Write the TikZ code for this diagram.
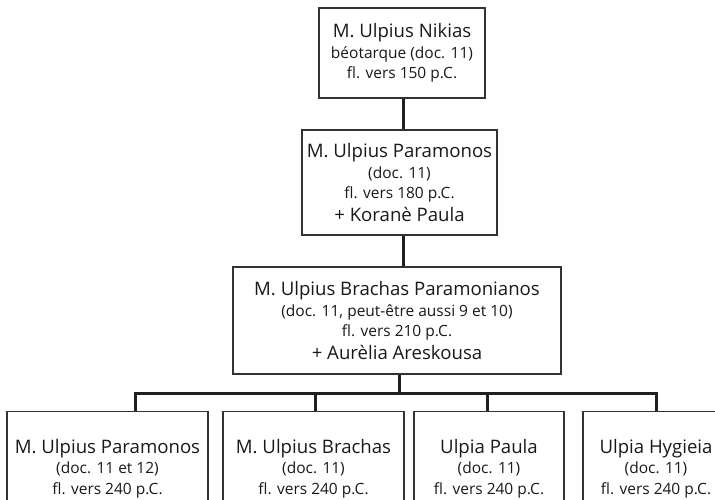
\documentclass[tikz,border=0pt]{standalone}
\usepackage{fontspec}
\setmainfont{Open Sans}
\newcommand\ttl[1]{{\fontsize{18.6}{23}\selectfont #1}}
\begin{document}
\begin{tikzpicture}[x=1pt,y=1pt,
  box/.style={draw=black!80, line width=1.3pt, fill=white, align=center, inner sep=0pt,
    font=\fontsize{15.5}{20.5}\selectfont, text=black!90},
  conn/.style={line width=3pt, draw=black!88}]
\useasboundingbox (0,0) rectangle (715,-499);
\fill[white] (0,0) rectangle (715,-499);
% generation 1
\node[box, minimum width=166, minimum height=90] (n1) at (402,-53)
  {\ttl{M. Ulpius Nikias}\\béotarque (doc. 11)\\fl. vers 150 p.C.};
% generation 2
\node[box, minimum width=195, minimum height=105] (n2) at (399.5,-182.5)
  {\ttl{M. Ulpius Paramonos}\\(doc. 11)\\fl. vers 180 p.C.\\[2pt]\ttl{+ Koranè Paula}};
% generation 3
\node[box, minimum width=328, minimum height=107] (n3) at (397,-320.5)
  {\ttl{M. Ulpius Brachas Paramonianos}\\(doc. 11, peut-être aussi 9 et 10)\\fl. vers 210 p.C.\\[2pt]\ttl{+ Aurèlia Areskousa}};
% generation 4
\node[box, minimum width=201, minimum height=114, anchor=north] (c1) at (107.5,-411)
  {\ttl{M. Ulpius Paramonos}\\(doc. 11 et 12)\\fl. vers 240 p.C.};
\node[box, minimum width=181, minimum height=114, anchor=north] (c2) at (313.5,-411)
  {\ttl{M. Ulpius Brachas}\\(doc. 11)\\fl. vers 240 p.C.};
\node[box, minimum width=150, minimum height=114, anchor=north] (c3) at (489,-411)
  {\ttl{Ulpia Paula}\\(doc. 11)\\fl. vers 240 p.C.};
\node[box, minimum width=146, minimum height=114, anchor=north] (c4) at (656,-411)
  {\ttl{Ulpia Hygieia}\\(doc. 11)\\fl. vers 240 p.C.};
% connectors
\coordinate (t1) at (403,0);
\coordinate (t2) at (399,0);
\coordinate (bus) at (0,-393);
\draw[conn] (t1 |- n1.south) -- (t1 |- n2.north);
\draw[conn] (t1 |- n2.south) -- (t1 |- n3.north);
\draw[conn] (t2 |- n3.south) -- (t2 |- bus);
\coordinate (d1) at (135,0);
\coordinate (d2) at (315,0);
\coordinate (d3) at (487,0);
\coordinate (d4) at (656,0);
\draw[conn] (d1 |- c1.north) -- (d1 |- bus) -- (d4 |- bus) -- (d4 |- c4.north);
\draw[conn] (d2 |- bus) -- (d2 |- c2.north);
\draw[conn] (d3 |- bus) -- (d3 |- c3.north);
\end{tikzpicture}
\end{document}
